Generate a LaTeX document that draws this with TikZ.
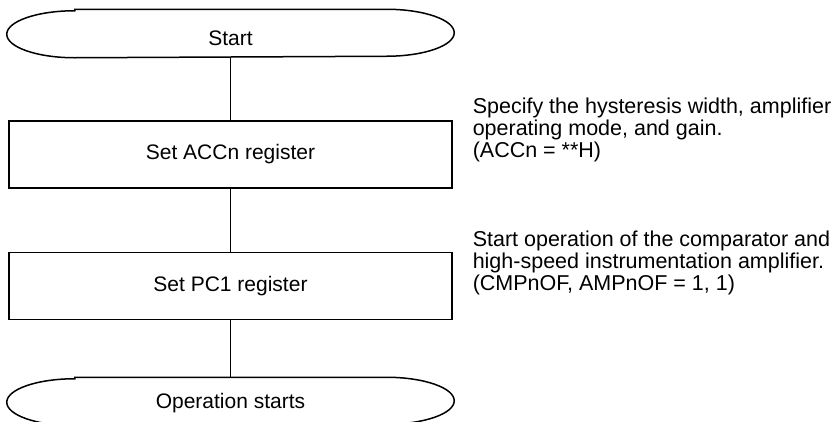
\documentclass[tikz,border=0pt]{standalone}
\usepackage{fontspec}
\setmainfont{Liberation Sans}
\begin{document}
\begin{tikzpicture}[x=1pt,y=-1pt,line width=1.5pt,
  every node/.style={font=\fontsize{21}{19.5}\selectfont,inner sep=0pt},
  term/.style={minimum width=446pt,minimum height=47pt},
  termlbl/.style={anchor=base},
  proc/.style={draw,minimum width=443pt,minimum height=67pt},
  note/.style={anchor=base west,font=\fontsize{21.5}{21.5}\selectfont}]
\useasboundingbox (0,0) rectangle (831,421);
\clip (0,0) rectangle (831,421);
\fill[white] (0,0) rectangle (831,421);

\node[term] (start) at (230.5,33.5) {};
\node[termlbl] (startlbl) at (230.5,45) {Start};
\node[proc] (acc) at (230.5,154.5) {Set ACCn register};
\node[proc] (pc1) at (230.5,286) {Set PC1 register};
\node[term] (end) at (230.5,401.5) {};
\node[termlbl] (endlbl) at (230.5,408) {Operation starts};

\foreach \t in {start,end}{
  \draw ([xshift=68pt]\t.north west) -- ([xshift=-68pt]\t.north east)
    arc[start angle=90,end angle=-90,x radius=68pt,y radius=23.5pt]
    -- ([xshift=68pt]\t.south west)
    arc[start angle=270,end angle=90,x radius=68pt,y radius=23.5pt] -- cycle;
}

\draw (start) -- (acc);
\draw (acc) -- (pc1);
\draw (pc1) -- (end);

\node[note] (n1) at (472,113) {\begin{tabular}[t]{@{}l@{}}Specify the hysteresis width, amplifier\\operating mode, and gain.\\(ACCn = **H)\end{tabular}};
\node[note] (n2) at (472,246) {\begin{tabular}[t]{@{}l@{}}Start operation of the comparator and\\high-speed instrumentation amplifier.\\(CMPnOF, AMPnOF = 1, 1)\end{tabular}};
\end{tikzpicture}
\end{document}
